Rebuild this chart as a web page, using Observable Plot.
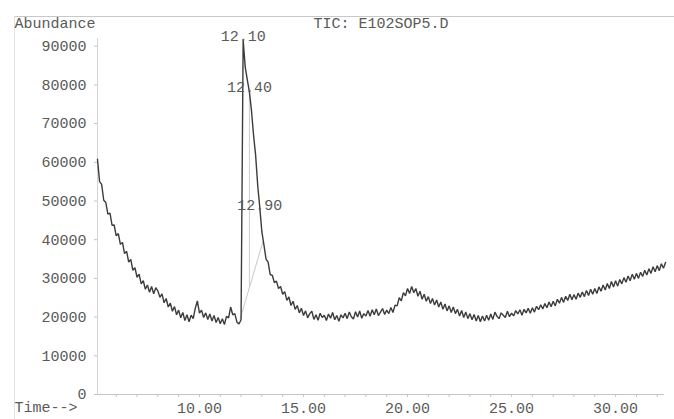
<!DOCTYPE html>
<html>
<head>
<meta charset="utf-8">
<script src="https://cdn.jsdelivr.net/npm/d3@7"></script>
<script src="https://cdn.jsdelivr.net/npm/@observablehq/plot@0.6"></script>
<style>
  html, body { margin: 0; padding: 0; background: #fff; }
  #wrap { position: relative; width: 674px; height: 419px; }
  #frameTop { position: absolute; left: 14px; top: 16px; width: 660px; height: 0; border-top: 1px solid #c8c8c8; }
  #frameLeft { position: absolute; left: 14px; top: 16px; width: 0; height: 403px; border-left: 1px solid #e2e2e2; }
  #wrap svg { position: absolute; left: 0; top: 0; }
</style>
</head>
<body>
<div id="wrap"><div id="frameTop"></div><div id="frameLeft"></div></div>
<script>
// Scan grid of the chromatogram (minutes)
const startTime = 5.1;
const scanStep = 0.1;

// Total ion current, one value per scan
const abundance = [
  60800, 55000, 54300, 50200, 49600, 46600, 46900, 43700, 43800, 41000,
  41600, 38800, 39300, 36400, 37000, 34200, 34900, 32100, 32800, 30300,
  31100, 28600, 29400, 27200, 28300, 26400, 27900, 26000, 27600, 26800,
  25100, 26000, 23700, 24800, 22600, 23600, 21500, 22700, 20600, 21800,
  19800, 21200, 19100, 20600, 18800, 20500, 19600, 22300, 24200, 21000,
  21800, 19900, 21100, 19400, 20800, 19000, 20400, 18600, 19900, 18300,
  19600, 18100, 20200, 19800, 22600, 20600, 20900, 18700, 18200, 19300,
  91500, 84600, 81300, 78200, 73400, 67000, 61800, 54000, 48300, 42000,
  38600, 35000, 34200, 31000, 30800, 28900, 29300, 27400, 27900, 25900,
  26600, 24300, 25200, 23000, 24100, 22000, 23000, 21100, 22300, 20400,
  21600, 19800, 20900, 21500, 19400, 20600, 19200, 21000, 19900, 20500,
  19100, 20800, 19700, 21200, 19300, 20400, 18900, 20600, 19800, 21000,
  19600, 21300, 20100, 19500, 21400, 20000, 21600, 19700, 20900, 20300,
  21700, 20200, 21900, 20600, 22100, 20400, 21300, 22200, 20700, 21800,
  20900, 22500, 21200, 23100, 22900, 25000, 24200, 26300, 25500, 27400,
  26100, 27900, 26300, 27400, 25400, 26700, 24600, 25900, 24100, 25300,
  23500, 24800, 23100, 24400, 22600, 23900, 22000, 23400, 21600, 22900,
  21200, 22600, 20900, 22000, 20300, 21700, 19900, 21300, 19600, 20900,
  19300, 20700, 19000, 20400, 18800, 20300, 19000, 20500, 19200, 20800,
  19400, 21300, 20200, 19600, 21100, 20500, 19900, 21500, 20100, 21000,
  20300, 21700, 20800, 21900, 20500, 22000, 21100, 22300, 21000, 22400,
  21300, 22800, 21900, 23200, 22100, 23500, 22400, 23900, 22700, 24100,
  22900, 24600, 23600, 25100, 23800, 25400, 24300, 25900, 24500, 25800,
  24600, 26200, 25100, 26500, 25300, 26900, 25600, 27200, 25900, 27400,
  26100, 27800, 26700, 28300, 27000, 28700, 27400, 29200, 27800, 29400,
  28000, 29700, 28600, 30200, 29000, 30600, 29400, 31100, 29800, 31300,
  30000, 31600, 30500, 32100, 30900, 32500, 31300, 33000, 31700, 33300,
  32000, 33800, 32600, 34100
];

// Peak annotations
const peakTimes = [12.10, 12.40, 12.90];
const peakValues = [91500, 78500, 48000];
const peakLabels = ["12.10", "12.40", "12.90"];

// Integration baseline and drop line
const baseTimes = [11.95, 13.05];
const baseValues = [19400, 39500];
const dropTimes = [12.40];
const dropBottom = [27500];
const dropTop = [78500];

// Axis ticks
const xMajor = [10, 15, 20, 25, 30];
const xMinor = [6, 7, 8, 9, 10, 11, 12, 13, 14, 15, 16, 17, 18, 19, 20, 21, 22, 23, 24, 25, 26, 27, 28, 29, 30, 31, 32];
const yTicks = [0, 10000, 20000, 30000, 40000, 50000, 60000, 70000, 80000, 90000];
const xDomain = [5.1, 32.35];
const yDomain = [0, 100000];

const trace = abundance.map((v, i) => ({t: +(startTime + i * scanStep).toFixed(2), v}));
const peaks = peakTimes.map((t, i) => ({t, v: peakValues[i], label: peakLabels[i]}));
const baseline = [{x1: baseTimes[0], y1: baseValues[0], x2: baseTimes[1], y2: baseValues[1]}];
const drops = dropTimes.map((t, i) => ({t, y1: dropBottom[i], y2: dropTop[i]}));

const chart = Plot.plot({
  width: 674,
  height: 419,
  marginLeft: 97,
  marginRight: 10,
  marginTop: 7,
  marginBottom: 25,
  style: {fontFamily: "'Liberation Mono', 'DejaVu Sans Mono', monospace", fontSize: "15px", color: "#5a5a5a", background: "transparent"},
  x: {domain: xDomain},
  y: {domain: yDomain},
  marks: [
    Plot.ruleY([0], {stroke: "#c4c4c4"}),
    Plot.ruleX([xDomain[0]], {stroke: "#d4d4d4", y1: 0, y2: 92000}),
    Plot.axisY(yTicks, {tickSize: 3, tickPadding: 8, tickFormat: d => String(d), stroke: "#c4c4c4", fill: "#5a5a5a"}),
    Plot.axisX(xMinor, {tickSize: 3, tickFormat: () => "", stroke: "#c4c4c4"}),
    Plot.axisX(xMajor, {tickSize: 0, tickPadding: 8, tickFormat: d3.format(".2f"), fill: "#5a5a5a"}),
    Plot.link(baseline, {x1: "x1", y1: "y1", x2: "x2", y2: "y2", stroke: "#c8c8c8", strokeWidth: 1}),
    Plot.ruleX(drops, {x: "t", y1: "y1", y2: "y2", stroke: "#cccccc", strokeWidth: 1}),
    Plot.line(trace, {x: "t", y: "v", stroke: "#3c3c3c", strokeWidth: 1.4, strokeLinejoin: "miter"}),
    Plot.text(peaks, {x: "t", y: "v", text: "label", dy: -4, lineAnchor: "middle", fill: "#5a5a5a"}),
    Plot.text(["Abundance"], {frameAnchor: "top-left", textAnchor: "start", lineAnchor: "middle", dx: -83, dy: 16, fill: "#5a5a5a"}),
    Plot.text(["TIC: E102SOP5.D"], {frameAnchor: "top-left", textAnchor: "start", lineAnchor: "middle", dx: 216, dy: 16, fill: "#5a5a5a"}),
    Plot.text(["Time-->"], {frameAnchor: "bottom-left", textAnchor: "start", lineAnchor: "middle", dx: -83, dy: 13, fill: "#5a5a5a"})
  ]
});
document.getElementById("wrap").appendChild(chart);
</script>
</body>
</html>
